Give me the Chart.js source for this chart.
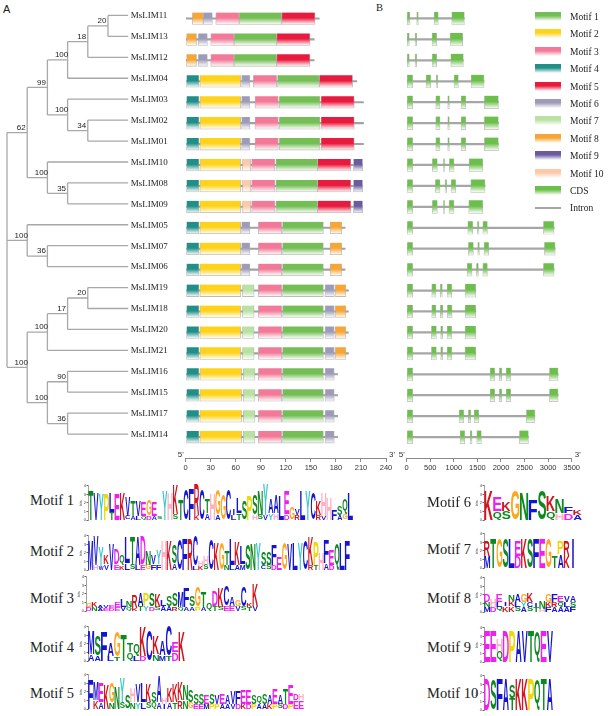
<!DOCTYPE html>
<html>
<head>
<meta charset="utf-8">
<script src="https://cdn.jsdelivr.net/npm/chart.js@4.4.1/dist/chart.umd.min.js"></script>
<style>
  html, body { margin: 0; padding: 0; background: #fff; }
  body { width: 608px; height: 716px; position: relative; overflow: hidden;
         font-family: "Liberation Serif", "Times New Roman", serif; color: #222; }
  canvas { position: absolute; }
  .txt { position: absolute; white-space: nowrap; }
  .mlab { font-size: 14.5px; line-height: 18px; }
  .sw { position: absolute; left: 535px; width: 26px; height: 9px; }
  .swt { position: absolute; left: 570px; font-size: 9.5px; line-height: 12px; white-space: nowrap; }
</style>
</head>
<body>
<div class="txt" style="left:3px;top:3px;font:11px 'Liberation Sans',sans-serif">A</div>
<div class="txt" style="left:376px;top:2px;font:10.5px 'Liberation Serif',serif">B</div>
<canvas id="tree" width="190" height="458" style="left:0;top:-3px"></canvas>
<canvas id="motifs" width="230" height="480" style="left:170px;top:0"></canvas>
<canvas id="genes" width="213" height="480" style="left:395px;top:0"></canvas>
<div class="txt mlab" style="left:30px;top:491px">Motif 1</div>
<div class="txt mlab" style="left:30px;top:542px">Motif 2</div>
<div class="txt mlab" style="left:30px;top:589px">Motif 3</div>
<div class="txt mlab" style="left:30px;top:638px">Motif 4</div>
<div class="txt mlab" style="left:30px;top:684px">Motif 5</div>
<div class="txt mlab" style="left:427px;top:493px">Motif 6</div>
<div class="txt mlab" style="left:427px;top:540px">Motif 7</div>
<div class="txt mlab" style="left:427px;top:589px">Motif 8</div>
<div class="txt mlab" style="left:427px;top:638px">Motif 9</div>
<div class="txt mlab" style="left:427px;top:684px">Motif 10</div>
<script>
// ---- data ----
const genes = ["MsLIM11","MsLIM13","MsLIM12","MsLIM04","MsLIM03","MsLIM02","MsLIM01",
  "MsLIM10","MsLIM08","MsLIM09","MsLIM05","MsLIM07","MsLIM06","MsLIM19","MsLIM18",
  "MsLIM20","MsLIM21","MsLIM16","MsLIM15","MsLIM17","MsLIM14"];

// tree topology: children are gene names or "n<index>" of an earlier node
const nodeKids = [["MsLIM11","MsLIM13"],["n0","MsLIM12"],["n1","MsLIM04"],["MsLIM02","MsLIM01"],
  ["MsLIM03","n3"],["n2","n4"],["MsLIM08","MsLIM09"],["MsLIM10","n6"],["n5","n7"],
  ["MsLIM07","MsLIM06"],["MsLIM05","n9"],["MsLIM19","MsLIM18"],["n11","MsLIM20"],["n12","MsLIM21"],
  ["MsLIM16","MsLIM15"],["MsLIM17","MsLIM14"],["n14","n15"],["n13","n16"],["n8","n10","n17"]];
const nodeDepth = [5,4,3,4,3,2,3,2,1,2,1,4,3,2,3,3,2,1,0];
const nodeSupport = [20,18,100,34,100,99,35,100,62,36,100,20,17,100,90,36,100,100,null];
const leafDepth = 6;

// protein lengths (aa) and motif spans per gene
const protLen = [160,154,154,205,213,213,213,212,212,212,191,191,191,195,195,195,195,182,182,182,182];
const motif1 = [[64,115],[58,109],[58,109],[110,160],[112,161],[112,161],[112,161],[108,158],[108,158],[108,158],
  [116,165],[116,165],[116,165],[116,165],[116,165],[116,165],[116,165],[116,165],[116,165],[116,165],[116,165]];
const motif2 = [null,null,null,[17,66],[17,66],[17,66],[17,66],[17,66],[17,66],[17,66],
  [17,66],[17,66],[17,66],[17,66],[17,66],[17,66],[17,66],[17,67],[17,67],[17,67],[17,67]];
const motif3 = [[36,64],[30,58],[30,58],[81,109],[83,111],[83,111],[83,111],[79,107],[79,107],[79,107],
  [87,115],[87,115],[87,115],[87,115],[87,115],[87,115],[87,115],[87,115],[87,115],[87,115],[87,115]];
const motif4 = [null,null,null,[1,16],[1,16],[1,16],[1,16],[1,16],[1,16],[1,16],
  [1,16],[1,16],[1,16],[1,16],[1,16],[1,16],[1,16],[1,16],[1,16],[1,16],[1,16]];
const motif5 = [[115,155],[109,149],[109,149],[160,200],[162,202],[162,202],[162,202],[158,198],[158,198],[158,198],
  null,null,null,null,null,null,null,null,null,null,null];
const motif6 = [[21,32],[15,26],[15,26],[67,77],[67,77],[67,77],[67,77],null,null,null,
  [67,77],[67,77],[67,77],[167,178],[167,178],[167,178],[167,178],[167,178],[167,178],[167,178],[167,178]];
const motif7 = [null,null,null,null,null,null,null,null,null,null,
  null,null,null,[68,82],[68,82],[68,82],[68,82],[69,83],[69,83],[69,83],[69,83]];
const motif8 = [[8,21],[1,13],[1,13],null,null,null,null,null,null,null,
  [173,187],[173,187],[173,187],[179,192],[179,192],[179,192],[179,192],null,null,null,null];
const motif9 = [null,null,null,null,null,null,null,[201,212],[201,212],[201,212],
  null,null,null,null,null,null,null,null,null,null,null];
const motif10 = [null,null,null,null,null,null,null,[68,78],[68,78],[68,78],
  null,null,null,null,null,null,null,null,null,null,null];
const motifTicks = [0,30,60,90,120,150,180,210,240];

// exon (CDS) spans in bp per gene
const geneExons = [
  [[0,70],[212,247],[580,670],[955,1223]],
  [[0,55],[176,212],[537,637],[919,1189]],
  [[0,55],[176,212],[540,637],[934,1202]],
  [[0,127],[410,510],[622,658],[1004,1096],[1365,1641]],
  [[0,127],[616,707],[870,905],[1153,1253],[1648,1945]],
  [[0,127],[616,707],[870,905],[1153,1253],[1648,1945]],
  [[0,127],[616,707],[870,905],[1153,1253],[1648,1945]],
  [[0,127],[544,650],[778,807],[905,1004],[1323,1614]],
  [[0,127],[608,707],[813,849],[941,1040],[1359,1662]],
  [[0,127],[544,650],[778,807],[898,1004],[1316,1614]],
  [[0,127],[1295,1401],[1500,1535],[1614,1712],[2900,3127]],
  [[0,127],[1308,1414],[1507,1542],[1641,1741],[2921,3149]],
  [[0,127],[1280,1386],[1479,1521],[1614,1712],[2900,3127]],
  [[0,127],[531,622],[714,756],[856,955],[1238,1465]],
  [[0,127],[531,622],[714,770],[863,962],[1238,1465]],
  [[0,127],[524,630],[721,763],[856,955],[1238,1465]],
  [[0,127],[524,630],[721,763],[856,955],[1238,1465]],
  [[0,127],[1769,1868],[1966,2017],[2108,2208],[3028,3212]],
  [[0,127],[1769,1868],[1966,2017],[2108,2208],[3028,3212]],
  [[0,127],[1110,1210],[1308,1359],[1429,1529],[2539,2718]],
  [[0,127],[1132,1231],[1344,1386],[1486,1584],[2391,2582]]
];
const geneTicks = [0,500,1000,1500,2000,2500,3000,3500];

// sequence logos: letters ('-' = none) and heights in bits, rows bottom to top
const m1Top = "TVYPLEKVTVEGESYHKTCFRCTHGGCILSPSNYAALEGVLYCKHHFSQL";
const m1TopBits = [3.4,3.2,3.0,3.0,2.2,3.0,3.2,2.2,1.8,1.8,1.6,1.8,1.6,0.4,3.4,3.2,3.4,2.4,3.6,3.6,
  3.6,3.6,1.6,3.0,3.0,3.0,3.6,0.8,1.8,2.2,2.8,2.4,2.8,3.6,1.6,2.0,2.8,2.6,1.4,0.8,3.4,3.4,3.2,1.6,2.6,2.6,1.2,1.0,1.8,3.2];
const m1Low = "----T--CALQDA---S---K-A-A--LT--HSVYH-D-R---RV--AG-";
const m1LowBits = [0,0,0,0,0.9,0,0,0.5,0.5,0.5,0.5,0.5,0.5,0,0,0,0.7,0,0,0,
  0.6,0,0.8,0,0.6,0,0,0.6,0.8,0,0,0.6,0.6,0.6,0.8,0.8,0,0.7,0,0.6,0,0,0,0.6,0.5,0,0,0.6,0.6,0];
const m2Top = "MVYKVDQLTADNVYHKSCFRCHHCKGTLKLSNYSSFEGVLYCKPHFEQLF";
const m2TopBits = [3.4,3.4,2.2,1.0,3.0,1.8,1.2,3.0,3.2,3.2,3.2,1.6,1.0,1.6,3.4,3.4,2.2,3.6,3.6,3.6,
  3.6,0.6,1.0,3.6,3.2,3.2,1.6,3.0,2.6,2.0,3.0,3.0,3.2,1.6,1.6,2.4,1.6,3.2,3.0,3.2,3.2,3.4,3.2,2.6,2.0,2.6,1.8,3.2,3.2,3.4];
const m2Low = "-HWV-EKLSLEGFF--A---LKS---NLAM---CSD------RT-AD---";
const m2LowBits = [0,0.6,0.5,0.7,0,0.7,0.5,0.8,0.6,0.6,0.7,0.6,0.7,0.7,0,0,0.8,0,0,0,
  0.5,0.5,0.6,0,0,0,0.6,0.6,0.6,0.7,0,0,0,0.5,0.6,0.6,0,0,0,0,0,0,0.6,0.6,0,0.8,0.6,0,0,0];
const m3Top = "GKAVEELNRAPSKLSSMFSGTQDKCAGCKK";
const m3TopBits = [0.5,0.6,0.3,0.3,0.3,0.6,0.9,0.8,1.5,1.4,1.5,1.5,1.5,0.8,1.3,1.5,1.7,2.2,1.3,2.3,
  1.8,1.0,1.8,2.2,2.3,1.0,0.7,2.3,0.4,2.5];
const m3Low = "DNAEDEVQKTYDSAARQAAPA-TSEEVSTV";
const m3LowBits = [0.5,0.5,0.4,0.4,0.4,0.5,0.5,0.5,0.4,0.6,0.6,0.5,0.5,0.6,0.6,0.5,0.5,0.5,0.5,0.5,
  0.5,0,0.6,0.5,0.6,0.6,0.6,0.5,0.5,0.6];
const m4Top = "MSFAGTTQKCKACEK";
const m4TopBits = [2.6,2.4,3.4,1.4,3.0,3.0,1.0,1.4,3.4,3.6,2.0,1.6,3.6,1.2,3.4];
const m4Low = "AA-LT-QLD-NMTD-";
const m4LowBits = [0.8,0.7,0,0.6,0.5,0,1.0,0.6,0.6,0,0.8,0.7,0.6,1.0,0];
const m5Top = "FMEKGNYSHVLKSAHKKKNSSSESVEAVFEESQSAEATEDH";
const m5TopBits = [3.4,2.0,2.2,2.8,2.4,2.6,2.8,1.6,1.6,2.0,2.2,2.0,1.2,3.0,0.8,1.6,2.0,2.0,1.8,1.4,
  1.2,1.2,1.0,1.2,1.0,1.2,1.0,1.4,1.4,1.6,1.6,1.0,1.0,1.2,1.0,1.8,1.0,1.8,2.2,0.8,0.8];
const m5Low = "-KA-N-S-NYLSQAIATRNGEEMPPAAVDKDPAAKPSDPEE";
const m5LowBits = [0,1.0,0.8,0,0.8,0,0.8,0,0.8,0.8,0.8,0.8,0.8,0.8,0.6,0.8,0.8,1.0,1.0,0.8,
  0.6,0.6,0.6,0.6,0.6,0.6,0.6,0.6,0.6,0.6,0.6,0.6,0.6,0.6,0.6,0.6,0.6,0.6,0.6,1.0,1.0];
const m6Top = "KEKGNFSKNFK";
const m6TopBits = [3.4,1.6,1.0,3.4,3.2,2.4,3.4,1.8,1.6,0.8,0.6];
const m6Low = "-QS----QHDA";
const m6LowBits = [0,1.0,1.0,0,0,0,0,1.0,0.8,0.8,0.6];
const m7Top = "RTGSLEKSFEGTPRI";
const m7TopBits = [1.8,3.4,3.4,3.4,3.4,1.8,3.4,3.4,3.4,3.4,3.4,1.4,1.4,1.8,3.4];
const m7Low = "M----D------AK-";
const m7LowBits = [1.4,0,0,0,0,1.4,0,0,0,0,0,0,1.6,1.4,0];
const m8Top = "DHEINAGKINGFEVA";
const m8TopBits = [0.9,0.9,0.9,0.5,0.8,0.9,0.9,1.0,0.5,0.9,0.9,0.9,0.8,0.8,0.8];
const m8Mid = "N-L-KLYC--KRQLS";
const m8MidBits = [0.6,0,0.6,0,0.6,0.6,0.6,0.6,0,0,0.6,0.6,0.6,0.6,0.6];
const m8Low = "MDQKKSASTHFAAAF";
const m8LowBits = [0.6,0.6,0.6,0.7,0.7,0.6,0.6,0.6,0.6,0.4,0.6,0.6,0.6,0.6,0.6];
const m9Top = "EEHDPAVTQEV";
const m9TopBits = [3.6,3.6,1.4,3.6,3.6,3.6,3.6,3.6,3.6,3.6,3.6];
const m9Low = "--Q--------";
const m9LowBits = [0,0,1.2,0,0,0,0,0,0,0,0];
const m10Top = "DSFASKKPQTA";
const m10TopBits = [3.6,3.6,3.6,3.6,1.6,3.6,3.6,3.6,3.6,3.6,3.6];
const m10Low = "----T------";
const m10LowBits = [0,0,0,0,1.4,0,0,0,0,0,0];

// ---- styles ----
const motifColors = ['#74be55','#ffd31c','#f27a98','#1f8f87','#e81a3d','#9d9bb8','#b8e1a2','#f7a534','#6b5b9e','#fdcaa9'];
const cdsColor = '#6cbf4b';
const intronColor = '#a6a6a6';
const aaColor = { A:'#1414d2', C:'#1414d2', F:'#1414d2', I:'#1414d2', L:'#1414d2', M:'#1414d2', V:'#1414d2', W:'#1414d2',
  N:'#0b8a1e', Q:'#0b8a1e', S:'#0b8a1e', T:'#0b8a1e', D:'#f01ef0', E:'#f01ef0', K:'#d4141e', R:'#d4141e',
  H:'#ffb0c4', G:'#ffa51e', P:'#f0d800', Y:'#38c8d0' };

Chart.defaults.font.family = '"Liberation Sans", Arial, sans-serif';
Chart.defaults.color = '#333';
Chart.defaults.animation = false;
Chart.defaults.responsive = false;
Chart.defaults.plugins.legend.display = false;
Chart.defaults.plugins.tooltip.enabled = false;

const rowTop = 8;
function rowAxis() { return { type: 'linear', reverse: true, min: -0.5, max: 21, offset: false, display: false }; }

// solid on top, fading to white at the bottom of each bar
function fade(color, half) {
  return function (c) {
    if (c.type !== 'data' || !c.raw || !c.chart.scales.y) return color;
    const cy = c.chart.scales.y.getPixelForValue(c.raw.y);
    if (!isFinite(cy)) return color;
    const g = c.chart.ctx.createLinearGradient(0, cy - half, 0, cy + half);
    g.addColorStop(0, color);
    g.addColorStop(0.45, color);
    g.addColorStop(1, '#ffffff');
    return g;
  };
}

const primeEnds = {
  id: 'primeEnds',
  afterDraw(chart) {
    const { ctx, chartArea: a } = chart;
    ctx.save();
    ctx.font = '8px "Liberation Sans"';
    ctx.fillStyle = '#333';
    ctx.textBaseline = 'bottom';
    ctx.textAlign = 'right';
    ctx.fillText("5'", a.left - 2, a.bottom + 1);
    ctx.textAlign = 'left';
    ctx.fillText("3'", a.right + 3, a.bottom + 1);
    ctx.restore();
  }
};

function axisX(min, max, ticks) {
  return {
    type: 'linear', min: min, max: max,
    afterBuildTicks(s) { s.ticks = ticks.map(v => ({ value: v })); },
    ticks: { font: { size: 7.5 }, color: '#333', padding: 1, maxRotation: 0, autoSkip: false,
             callback: v => String(v) },
    grid: { drawOnChartArea: false, tickLength: 4, color: '#8a8a8a' },
    border: { color: '#8a8a8a' },
    afterFit(s) { s.height = 22; }
  };
}

// ---- tree ----
const leafY = {};
genes.forEach((g, i) => { leafY[g] = i; });
const nodeY = [];
function yOf(k) { return k[0] === 'n' ? nodeY[+k.slice(1)] : leafY[k]; }
function xOf(k) { return k[0] === 'n' ? nodeDepth[+k.slice(1)] : leafDepth; }
nodeKids.forEach((kids, i) => {
  const ys = kids.map(yOf);
  nodeY[i] = (ys[0] + ys[ys.length - 1]) / 2;
});
const treePts = [];
nodeKids.forEach((kids, i) => {
  const ys = kids.map(yOf);
  treePts.push({ x: nodeDepth[i], y: Math.min(...ys) }, { x: nodeDepth[i], y: Math.max(...ys) }, { x: null, y: null });
  kids.forEach(k => {
    treePts.push({ x: nodeDepth[i], y: yOf(k) }, { x: xOf(k), y: yOf(k) }, { x: null, y: null });
  });
});

const treeText = {
  id: 'treeText',
  afterDatasetsDraw(chart) {
    const { ctx, scales: { x, y } } = chart;
    ctx.save();
    ctx.fillStyle = '#222';
    ctx.font = '9px "Liberation Serif"';
    ctx.textAlign = 'left';
    ctx.textBaseline = 'middle';
    genes.forEach((g, i) => ctx.fillText(g, x.getPixelForValue(leafDepth) + 2.5, y.getPixelForValue(i) + 0.5));
    ctx.font = '8px "Liberation Sans"';
    ctx.textAlign = 'center';
    ctx.textBaseline = 'bottom';
    nodeSupport.forEach((s, i) => {
      if (s == null) return;
      ctx.fillText(String(s), x.getPixelForValue(nodeDepth[i]) - 6, y.getPixelForValue(nodeY[i]) - 1);
    });
    ctx.restore();
  }
};

new Chart(document.getElementById('tree'), {
  type: 'scatter',
  data: { datasets: [{ data: treePts, showLine: true, spanGaps: false, borderColor: '#a8a8a8', borderWidth: 1.3, pointRadius: 0 }] },
  options: {
    layout: { padding: { top: rowTop, bottom: 0, left: 0, right: 0 } },
    scales: { x: { type: 'linear', min: -0.3465, max: 9.06, display: false }, y: rowAxis() }
  },
  plugins: [treeText]
});

// ---- motif structure ----
function spanPoints(arr) {
  const out = [];
  arr.forEach((v, i) => { if (v) out.push({ x: v, y: i }); });
  return out;
}
const motifSpans = [motif1, motif2, motif3, motif4, motif5, motif6, motif7, motif8, motif9, motif10];
const motifDatasets = motifSpans.map((arr, k) => ({
  label: 'Motif ' + (k + 1),
  data: spanPoints(arr),
  backgroundColor: fade(motifColors[k], 6),
  borderColor: 'rgba(165,165,165,0.75)',
  borderWidth: { left: 0.8, right: 0.8, top: 0, bottom: 0.8 },
  borderSkipped: false,
  barThickness: 12, grouped: false, order: 0
}));
motifDatasets.push({
  label: 'protein', data: protLen.map((l, i) => ({ x: [0, l], y: i })),
  backgroundColor: '#a2a2a2', borderWidth: 0, barThickness: 1.4, grouped: false, order: 1
});

new Chart(document.getElementById('motifs'), {
  type: 'bar',
  data: { datasets: motifDatasets },
  options: {
    indexAxis: 'y',
    layout: { padding: { top: rowTop, left: 15.7, right: 14, bottom: 0 } },
    scales: { y: rowAxis(), x: axisX(0, 240, motifTicks) }
  },
  plugins: [primeEnds]
});

// ---- gene structure ----
const exonPts = [];
geneExons.forEach((ex, i) => ex.forEach(e => exonPts.push({ x: e, y: i })));
new Chart(document.getElementById('genes'), {
  type: 'bar',
  data: {
    datasets: [
      { label: 'CDS', data: exonPts, backgroundColor: fade(cdsColor, 6.5),
        borderColor: 'rgba(165,165,165,0.75)', borderWidth: { left: 0.7, right: 0.7, top: 0, bottom: 0.7 },
        borderSkipped: false, barThickness: 13, grouped: false, order: 0 },
      { label: 'Intron', data: geneExons.map((ex, i) => ({ x: [0, ex[ex.length - 1][1]], y: i })),
        backgroundColor: intronColor, borderWidth: 0, barThickness: 1.6, grouped: false, order: 1 }
    ]
  },
  options: {
    indexAxis: 'y',
    layout: { padding: { top: rowTop, left: 11.7, right: 36.3, bottom: 0 } },
    scales: { y: rowAxis(), x: axisX(0, 3500, geneTicks) }
  },
  plugins: [primeEnds]
});

// ---- legend ----
const legendNames = ['Motif 1','Motif 2','Motif 3','Motif 4','Motif 5','Motif 6','Motif 7','Motif 8','Motif 9','Motif 10','CDS','Intron'];
const legendColors = motifColors.concat([cdsColor]);
legendNames.forEach((name, k) => {
  const cy = 16.5 + 17.4 * k;
  const sw = document.createElement('div');
  sw.className = 'sw';
  if (k < legendColors.length) {
    const c = legendColors[k];
    sw.style.top = (cy - 4.5) + 'px';
    sw.style.background = 'linear-gradient(to bottom,' + c + ' 0%,' + c + ' 42%,#ffffff 100%)';
  } else {
    sw.style.top = (cy - 1) + 'px';
    sw.style.height = '2px';
    sw.style.background = intronColor;
  }
  document.body.appendChild(sw);
  const t = document.createElement('div');
  t.className = 'swt';
  t.style.top = (cy - 5.5) + 'px';
  t.textContent = name;
  document.body.appendChild(t);
});

// ---- sequence logos ----
function drawLetter(ctx, ch, x0, x1, yTop, yBot) {
  if (ch === 'I') {            // keep the I a thin stroke, as in the logo
    const mid = (x0 + x1) / 2, w = Math.max(0.8, (x1 - x0) * 0.28);
    x0 = mid - w / 2; x1 = mid + w / 2;
  }
  ctx.font = 'bold 60px "Liberation Sans"';
  const m = ctx.measureText(ch);
  const gw = m.actualBoundingBoxLeft + m.actualBoundingBoxRight;
  const gh = m.actualBoundingBoxAscent + m.actualBoundingBoxDescent;
  if (gw <= 0 || gh <= 0) return;
  ctx.save();
  ctx.translate(x0, yTop);
  ctx.scale((x1 - x0) / gw, (yBot - yTop) / gh);
  ctx.fillStyle = aaColor[ch] || '#000';
  ctx.textAlign = 'left';
  ctx.textBaseline = 'alphabetic';
  ctx.fillText(ch, m.actualBoundingBoxLeft, m.actualBoundingBoxAscent);
  ctx.restore();
}
const letterPlugin = {
  id: 'letters',
  afterDatasetsDraw(chart) {
    const ctx = chart.ctx;
    chart.data.datasets.forEach((ds, di) => {
      chart.getDatasetMeta(di).data.forEach((bar, i) => {
        const ch = ds.letters[i];
        if (!ch || ch === '-') return;
        const p = bar.getProps(['x', 'y', 'base', 'width'], true);
        const top = Math.min(p.y, p.base), bot = Math.max(p.y, p.base);
        if (bot - top < 0.3) return;
        drawLetter(ctx, ch, p.x - p.width / 2, p.x + p.width / 2, top, bot);
      });
    });
  }
};

function logoChart(area, rows) {
  const [x0, x1, yTop, yBase] = area;
  const yAxisW = 9, xAxisH = 5, padT = 1, padR = 1;
  const c = document.createElement('canvas');
  c.width = x1 - x0 + yAxisW + padR;
  c.height = yBase - yTop + padT + xAxisH;
  c.style.left = (x0 - yAxisW) + 'px';
  c.style.top = (yTop - padT) + 'px';
  document.body.appendChild(c);
  const n = rows[rows.length - 1][0].length;
  const labels = [];
  for (let i = 1; i <= n; i++) labels.push(String(i));
  new Chart(c, {
    type: 'bar',
    data: {
      labels: labels,
      datasets: rows.map(([letters, bits]) => ({
        data: bits.map((b, i) => letters[i] === '-' ? 0 : b),
        letters: letters,
        backgroundColor: 'rgba(0,0,0,0)', borderWidth: 0,
        barPercentage: 1, categoryPercentage: 0.94
      }))
    },
    options: {
      layout: { padding: { top: padT, right: padR, left: 0, bottom: 0 } },
      scales: {
        x: { stacked: true, grid: { display: false }, border: { display: false },
             ticks: { font: { size: 3 }, color: '#777', padding: 0, autoSkip: false, maxRotation: 0 },
             afterFit(s) { s.height = xAxisH; } },
        y: { stacked: true, min: 0, max: 4,
             ticks: { stepSize: 1, font: { size: 4 }, color: '#444', padding: 0.5 },
             grid: { drawOnChartArea: false, tickLength: 1.5, color: '#666' },
             border: { color: '#666', width: 0.6 },
             title: { display: true, text: 'bits', font: { size: 3.5 }, padding: 0 },
             afterFit(s) { s.width = yAxisW; } }
      }
    },
    plugins: [letterPlugin]
  });
}

logoChart([88, 353, 484, 520], [[m1Low, m1LowBits], [m1Top, m1TopBits]]);
logoChart([88, 350, 534, 570], [[m2Low, m2LowBits], [m2Top, m2TopBits]]);
logoChart([86, 258, 575, 611], [[m3Low, m3LowBits], [m3Top, m3TopBits]]);
logoChart([88, 185, 625, 661], [[m4Low, m4LowBits], [m4Top, m4TopBits]]);
logoChart([88, 304, 673, 709], [[m5Low, m5LowBits], [m5Top, m5TopBits]]);
logoChart([484, 582, 484, 520], [[m6Low, m6LowBits], [m6Top, m6TopBits]]);
logoChart([484, 576, 532, 568], [[m7Low, m7LowBits], [m7Top, m7TopBits]]);
logoChart([484, 576, 576, 612], [[m8Low, m8LowBits], [m8Mid, m8MidBits], [m8Top, m8TopBits]]);
logoChart([484, 553, 626, 662], [[m9Low, m9LowBits], [m9Top, m9TopBits]]);
logoChart([484, 553, 674, 710], [[m10Low, m10LowBits], [m10Top, m10TopBits]]);
</script>
</body>
</html>
